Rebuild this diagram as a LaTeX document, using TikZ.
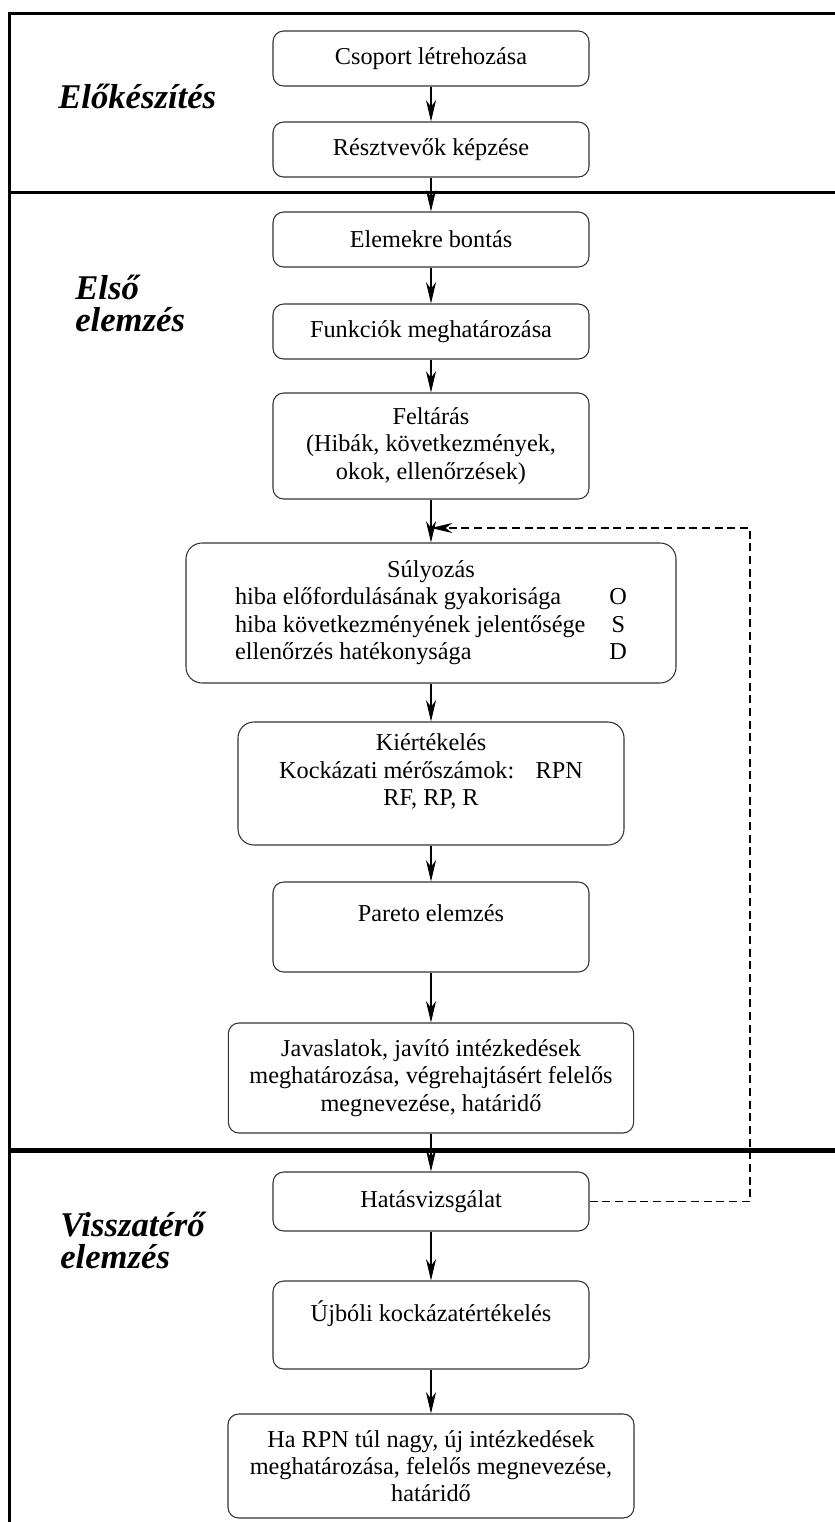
\documentclass[tikz,border=0pt]{standalone}
\usepackage{fontspec}
\setmainfont{Liberation Serif}
\usepackage{tikz}
\usetikzlibrary{arrows.meta}
\definecolor{fmeaGray}{HTML}{333333}
\newcommand{\boxfont}{\fontsize{18.2}{20.5}\selectfont}
\newcommand{\phasefont}{\fontsize{26}{24}\selectfont\bfseries\itshape}
\tikzset{
  fmeaBox/.style={
    draw=fmeaGray,
    line width=0.8pt,
    rounded corners=8pt,
    align=center,
    font=\boxfont,
    minimum width=237pt,
    minimum height=41.25pt,
    inner sep=2pt
  },
  fmeaArrow/.style={-{Stealth[length=16pt,width=7.5pt,inset=5pt]}, line width=0.8pt, black},
  loopArrow/.style={fmeaArrow, dash pattern=on 6pt off 3.5pt},
  phaseLabel/.style={font=\phasefont, align=left, inner sep=0pt},
  frameLine/.style={line width=2.25pt, black}
}
\begin{document}
\begin{tikzpicture}[x=0.75pt,y=-0.75pt]
  \useasboundingbox (0,0) rectangle (835,1522);
  % phase frame
  \draw[frameLine] (835,13) -- (9,13) -- (9,1522);
  \draw[frameLine] (9,192) -- (835,192);
  \draw[frameLine, line width=3.75pt] (9,1150) -- (835,1150);
  % phase labels
  \node[phaseLabel, anchor=base west] (phasePrep) at (58,108) {Előkészítés};
  \node[phaseLabel, anchor=west] (phaseFirst) at (75,303) {Első\\elemzés};
  \node[phaseLabel, anchor=west] (phaseRepeat) at (60,1240) {Visszatérő\\elemzés};
  % steps
  \node[fmeaBox] (csoport) at (431,58.5) {Csoport létrehozása};
  \node[fmeaBox] (kepzes) at (431,149.5) {Résztvevők képzése};
  \node[fmeaBox] (bontas) at (431,239.5) {Elemekre bontás};
  \node[fmeaBox] (funkciok) at (431,331.5) {Funkciók meghatározása};
  \node[fmeaBox, minimum height=79.5pt] (feltaras) at (431,446)
    {Feltárás\\(Hibák, következmények,\\okok, ellenőrzések)};
  \node[fmeaBox, minimum width=367.5pt, minimum height=105pt,
    rounded corners=12pt] (sulyozas) at (431,613) {%
    \begin{tabular}{@{}l@{\hspace{18pt}}c@{}}
      \multicolumn{2}{@{}c@{}}{Súlyozás}\\
      hiba előfordulásának gyakorisága & O\\
      hiba következményének jelentősége & S\\
      ellenőrzés hatékonysága & D
    \end{tabular}};
  \node[fmeaBox, minimum width=289.5pt, minimum height=92.25pt,
    rounded corners=12pt] (kiertekeles) at (431,783.5)
    {Kiértékelés\\Kockázati mérőszámok:\hspace{16pt}RPN\\RF, RP, R\\\mbox{}};
  \node[fmeaBox, minimum height=67.5pt] (pareto) at (431,927)
    {Pareto elemzés\\\mbox{}};
  \node[fmeaBox, minimum width=304pt, minimum height=82.5pt] (javaslatok)
    at (431,1078) {Javaslatok, javító intézkedések\\meghatározása,
    végrehajtásért felelős\\megnevezése, határidő};
  \node[fmeaBox, minimum height=44.25pt] (hatas) at (431,1201.5)
    {Hatásvizsgálat};
  \node[fmeaBox, minimum height=66pt] (ujboli) at (431,1325)
    {Újbóli kockázatértékelés\\\mbox{}};
  \node[fmeaBox, minimum width=304.5pt, minimum height=78pt] (ujintezkedes)
    at (431,1466) {Ha RPN túl nagy, új intézkedések\\meghatározása,
    felelős megnevezése,\\határidő};
  % flow
  \draw[fmeaArrow] (csoport) -- (kepzes);
  \draw[fmeaArrow] (kepzes) -- (bontas);
  \draw[fmeaArrow] (bontas) -- (funkciok);
  \draw[fmeaArrow] (funkciok) -- (feltaras);
  \draw[fmeaArrow] (feltaras) -- (sulyozas);
  \draw[fmeaArrow] (sulyozas) -- (kiertekeles);
  \draw[fmeaArrow] (kiertekeles) -- (pareto);
  \draw[fmeaArrow] (pareto) -- (javaslatok);
  \draw[fmeaArrow] (javaslatok) -- (hatas);
  \draw[fmeaArrow] (hatas) -- (ujboli);
  \draw[fmeaArrow] (ujboli) -- (ujintezkedes);
  % feedback loop
  \coordinate (loopCorner) at (750,528);
  \coordinate (loopEnd) at (feltaras.south |- loopCorner);
  \draw[loopArrow] (hatas.east) -| (loopCorner) -- (loopEnd);
\end{tikzpicture}
\end{document}
